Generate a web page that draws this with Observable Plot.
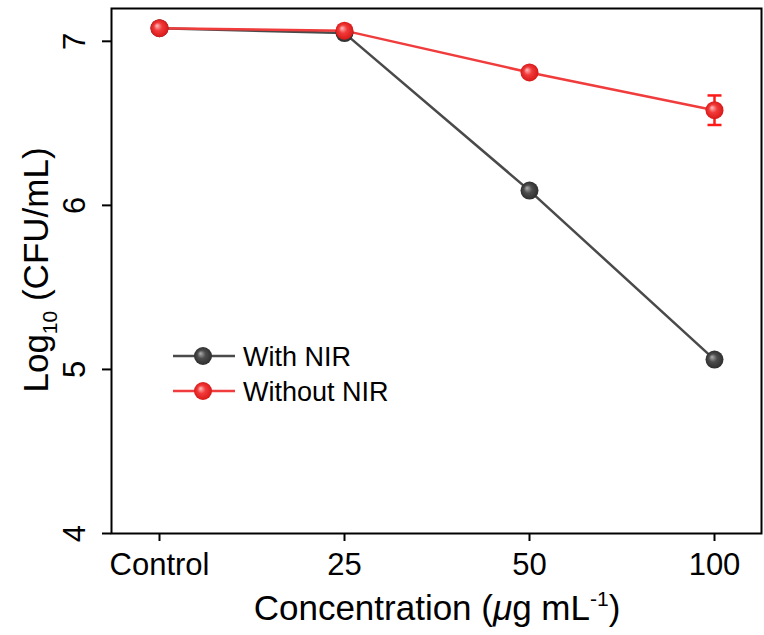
<!DOCTYPE html>
<html>
<head>
<meta charset="utf-8">
<script src="https://cdn.jsdelivr.net/npm/d3@7"></script>
<script src="https://cdn.jsdelivr.net/npm/@observablehq/plot@0.6"></script>
<style>
  html, body { margin: 0; padding: 0; background: #fff; }
  #chart { width: 764px; height: 635px; }
  svg { font-family: Arial, "Liberation Sans", sans-serif; }
</style>
</head>
<body>
<div id="chart"></div>
<script>
const categories = ["Control", "25", "50", "100"];
const withNIR = [7.08, 7.05, 6.09, 5.06];
const withNIRErr = [0, 0, 0, 0];
const withoutNIR = [7.08, 7.065, 6.81, 6.58];
const withoutNIRErr = [0, 0, 0, 0.09];
const yTicks = [4, 5, 6, 7];
const seriesNames = ["With NIR", "Without NIR"];

const grayLine = "#4a4a4a";
const redLine = "#f03c3c";

const rows = [];
categories.forEach((c, i) => {
  rows.push({cat: c, v: withNIR[i], e: withNIRErr[i], s: seriesNames[0]});
  rows.push({cat: c, v: withoutNIR[i], e: withoutNIRErr[i], s: seriesNames[1]});
});
const gray = rows.filter(d => d.s === seriesNames[0]);
const red = rows.filter(d => d.s === seriesNames[1]);
const redErr = red.filter(d => d.e > 0);

const hline = {
  draw(context, size) {
    const w = Math.sqrt(size / Math.PI);
    context.moveTo(-w, 0);
    context.lineTo(w, 0);
  }
};

const svg = Plot.plot({
  width: 764,
  height: 635,
  marginLeft: 111,
  marginRight: 3,
  marginTop: 8,
  marginBottom: 102,
  style: {fontFamily: "Arial, 'Liberation Sans', sans-serif", background: "#fff", color: "#000"},
  x: {type: "point", domain: categories, padding: 0.25, label: null},
  y: {domain: [4, 7.2], label: null},
  marks: [
    Plot.axisX({tickSize: 8, tickPadding: 11, fontSize: 31, strokeWidth: 2, label: null}),
    Plot.axisY({ticks: yTicks, tickSize: 9, tickFormat: () => "", strokeWidth: 2, label: null}),
    Plot.text(yTicks, {y: d => d, text: d => String(d), frameAnchor: "left", dx: -36, rotate: -90, lineAnchor: "middle", textAnchor: "middle", fontSize: 31, fill: "#000"}),
    Plot.line(gray, {x: "cat", y: "v", stroke: grayLine, strokeWidth: 2.5}),
    Plot.line(red, {x: "cat", y: "v", stroke: redLine, strokeWidth: 2.5}),
    Plot.ruleX(redErr, {x: "cat", y1: d => d.v - d.e, y2: d => d.v + d.e, stroke: "#ff1a1a", strokeWidth: 2.5}),
    Plot.dot(redErr, {x: "cat", y: d => d.v - d.e, symbol: hline, r: 7, stroke: "#ff1a1a", strokeWidth: 2.5}),
    Plot.dot(redErr, {x: "cat", y: d => d.v + d.e, symbol: hline, r: 7, stroke: "#ff1a1a", strokeWidth: 2.5}),
    Plot.dot(gray, {x: "cat", y: "v", r: 9, fill: "url(#gGray)", stroke: "none"}),
    Plot.dot(red, {x: "cat", y: "v", r: 9, fill: "url(#gRed)", stroke: "none"}),
    Plot.frame({stroke: "#000", strokeWidth: 2})
  ]
});

const s = d3.select(svg);
const defs = s.insert("defs", ":first-child");
function grad(id, hi, mid, edge) {
  const g = defs.append("radialGradient").attr("id", id)
    .attr("cx", "0.5").attr("cy", "0.5").attr("r", "0.5")
    .attr("fx", "0.35").attr("fy", "0.35");
  g.append("stop").attr("offset", "0%").attr("stop-color", hi);
  g.append("stop").attr("offset", "45%").attr("stop-color", mid);
  g.append("stop").attr("offset", "100%").attr("stop-color", edge);
}
grad("gGray", "#b0b0b0", "#4d4d4d", "#2e2e2e");
grad("gRed", "#ffc0c0", "#f23a3a", "#d81818");

// Legend
const legend = s.append("g").attr("font-size", 27).attr("fill", "#000").attr("text-anchor", "start");
[[seriesNames[0], grayLine, "url(#gGray)", 356], [seriesNames[1], redLine, "url(#gRed)", 391]].forEach(([name, col, fill, y]) => {
  legend.append("line").attr("x1", 173).attr("x2", 235).attr("y1", y).attr("y2", y)
    .attr("stroke", col).attr("stroke-width", 2.5);
  legend.append("circle").attr("cx", 203).attr("cy", y).attr("r", 9).attr("fill", fill);
  legend.append("text").attr("x", 243).attr("y", y + 10).attr("text-anchor", "start").text(name);
});

// Axis titles
const xt = s.append("text").attr("x", 437).attr("y", 620).attr("text-anchor", "middle")
  .attr("font-size", 35).attr("fill", "#000");
xt.append("tspan").text("Concentration (");
xt.append("tspan").attr("font-style", "italic").text("\u03bc");
xt.append("tspan").text("g mL");
xt.append("tspan").attr("font-size", 21).attr("dy", -14).text("-1");
xt.append("tspan").attr("dy", 14).text(")");

const yt = s.append("text").attr("transform", "translate(48,270) rotate(-90)").attr("text-anchor", "middle")
  .attr("font-size", 35).attr("fill", "#000");
yt.append("tspan").text("Log");
yt.append("tspan").attr("font-size", 21).attr("dy", 9).text("10");
yt.append("tspan").attr("dy", -9).text(" (CFU/mL)");

document.getElementById("chart").appendChild(svg);
</script>
</body>
</html>
